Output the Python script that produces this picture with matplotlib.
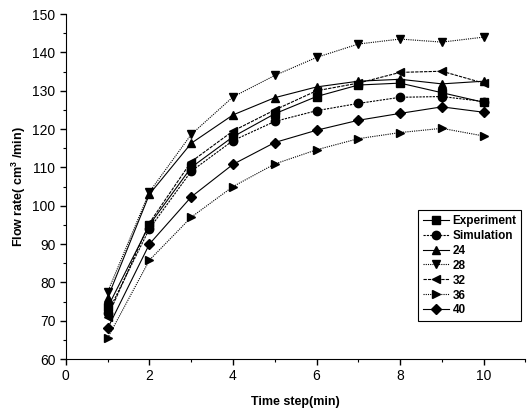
import matplotlib
matplotlib.use("Agg")
import matplotlib.pyplot as plt
from matplotlib.ticker import MultipleLocator

# data
time_step = [1, 2, 3, 4, 5, 6, 7, 8, 9, 10]
experiment = [73.5, 95.0, 110.0, 118.0, 124.0, 128.5, 131.5, 132.0, 129.5, 127.0]
simulation = [72.0, 94.0, 109.0, 117.0, 122.0, 124.8, 126.7, 128.3, 128.5, 127.2]
s24 = [76.0, 103.0, 116.3, 123.7, 128.2, 131.0, 132.5, 133.0, 131.8, 132.5]
s28 = [77.5, 103.6, 118.6, 128.4, 134.0, 138.7, 142.2, 143.5, 142.7, 144.0]
s32 = [71.0, 95.5, 111.5, 119.5, 125.0, 130.0, 132.0, 134.8, 135.1, 132.0]
s36 = [65.5, 85.8, 97.0, 105.0, 110.9, 114.6, 117.5, 119.1, 120.2, 118.2]
s40 = [68.0, 90.0, 102.3, 110.8, 116.5, 119.7, 122.3, 124.1, 125.8, 124.4]

series = [
    ("Experiment", experiment, "s", "-"),
    ("Simulation", simulation, "o", (0, (2, 1))),
    ("24", s24, "^", "-"),
    ("28", s28, "v", (0, (1, 1))),
    ("32", s32, "<", (0, (3, 1))),
    ("36", s36, ">", (0, (1, 1))),
    ("40", s40, "D", "-"),
]

plt.rcParams["font.family"] = ["Liberation Sans", "DejaVu Sans"]
plt.rcParams["mathtext.fontset"] = "custom"
plt.rcParams["mathtext.bf"] = "Liberation Sans:bold"

fig = plt.figure(figsize=(5.27, 4.16), dpi=100)
ax = fig.add_axes([0.125, 0.137, 0.872, 0.829])

for label, ys, mk, ls in series:
    ax.plot(time_step, ys, color="black", linestyle=ls, linewidth=0.8,
            marker=mk, markersize=6 if mk != "D" else 5, label=label)

ax.set_xlim(0, 11)
ax.set_ylim(60, 150)
ax.xaxis.set_minor_locator(MultipleLocator(1))
ax.yaxis.set_major_locator(MultipleLocator(10))
ax.yaxis.set_minor_locator(MultipleLocator(5))
ax.set_xticks([0, 2, 4, 6, 8, 10])
ax.spines["top"].set_visible(False)
ax.spines["right"].set_visible(False)
ax.tick_params(labelsize=10, length=4, width=1)
ax.tick_params(which="minor", length=2.5, width=0.8)

ax.set_xlabel("Time step(min)", fontsize=9, fontweight="bold", labelpad=9)
ax.set_ylabel(r"Flow rate( cm$^{\mathbf{3}}$ /min)", fontsize=9, fontweight="bold", labelpad=3)

leg = ax.legend(loc="upper left", bbox_to_anchor=(0.767, 0.432), borderaxespad=0,
                fancybox=False, edgecolor="black", framealpha=1,
                prop={"weight": "bold", "size": 8.5}, handlelength=2.2,
                handletextpad=0.3, labelspacing=0.25, borderpad=0.4)
leg.get_frame().set_linewidth(0.8)

plt.savefig("out.png", dpi=100)
